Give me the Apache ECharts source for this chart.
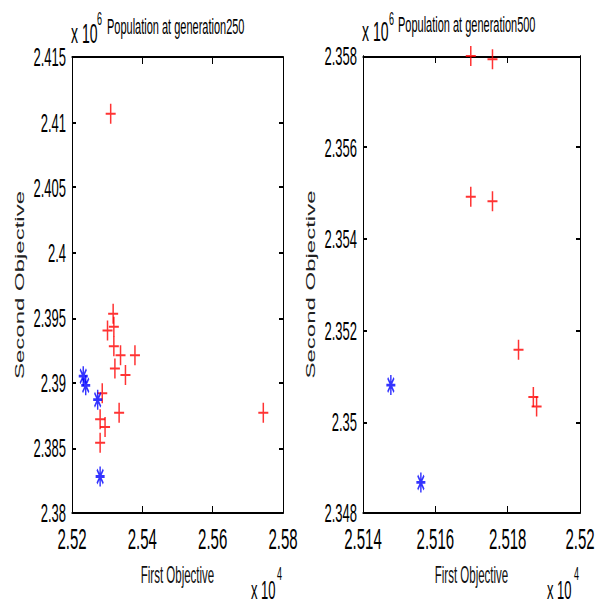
<!DOCTYPE html>
<html>
<head>
<meta charset="utf-8">
<script src="https://cdn.jsdelivr.net/npm/echarts@6/dist/echarts.min.js"></script>
<style>
  html, body { margin: 0; padding: 0; background: #fff; }
  #wrap { width: 600px; height: 604px; overflow: hidden; }
  /* the figure is drawn at half height and stretched 2x vertically, like the original capture */
  #main { width: 600px; height: 302px; transform: scaleY(2); transform-origin: 0 0; }
</style>
</head>
<body>
<div id="wrap"><div id="main"></div></div>
<script>
// generation 250 (x = first objective, y = second objective, raw units)
var gen250RedX = [25310, 25317, 25319, 25301, 25319, 25338, 25379, 25322, 25352, 25286, 25334, 25280, 25294, 25280, 25744];
var gen250RedY = [2410650, 2395300, 2394300, 2394000, 2392800, 2392100, 2392100, 2391100, 2390600, 2389200, 2387700, 2387200, 2386600, 2385400, 2387700];
var gen250BlueX = [25232, 25239, 25273, 25280];
var gen250BlueY = [2390500, 2389800, 2388700, 2382800];

// generation 500
var gen500RedX = [25169.8, 25175.8, 25169.8, 25175.8, 25183.0, 25187.1, 25188.0];
var gen500RedY = [2358000, 2357930, 2354920, 2354820, 2351570, 2350540, 2350330];
var gen500BlueX = [25147.7, 25156.0];
var gen500BlueY = [2350800, 2348670];

// axis ticks (raw units)
var gen250XTicks = [25200, 25400, 25600, 25800];
var gen250YTicks = [2380000, 2385000, 2390000, 2395000, 2400000, 2405000, 2410000, 2415000];
var gen500XTicks = [25140, 25160, 25180, 25200];
var gen500YTicks = [2348000, 2350000, 2352000, 2354000, 2356000, 2358000];

var titles = ['Population at generation250', 'Population at generation500'];

var FONT = 'Liberation Sans, Arial, sans-serif';
var PLUS = 'path://M0,4.5H10V5.5H0Z M4.25,0H5.75V10H4.25Z';
var STAR = 'path://M0,4.3H10V5.7H0Z M4.2,0H5.8V10H4.2Z M1,2L2,1L9,8L8,9Z M8,1L9,2L2,9L1,8Z';

function pairs(xs, ys) {
  var out = [];
  for (var i = 0; i < xs.length; i++) out.push([xs[i], ys[i]]);
  return out;
}

function xAxisFor(gi, ticks, pos) {
  var main = pos === 'bottom';
  return {
    gridIndex: gi, type: 'value', position: pos,
    min: ticks[0], max: ticks[ticks.length - 1], interval: ticks[1] - ticks[0],
    axisLine: { show: true, onZero: false, lineStyle: { color: '#000', width: 1 } },
    axisTick: { show: true, inside: true, length: 3.5, lineStyle: { color: '#000' } },
    axisLabel: {
      show: main, margin: 5.5, fontSize: 15, color: '#000', fontFamily: FONT,
      formatter: function (v) { return String(v / 1e4); }
    },
    splitLine: { show: false },
    name: main ? 'First Objective' : '',
    nameLocation: 'middle', nameGap: 24,
    nameTextStyle: { fontSize: 11.5, color: '#111', fontFamily: FONT }
  };
}

function yAxisFor(gi, ticks, pos) {
  var main = pos === 'left';
  return {
    gridIndex: gi, type: 'value', position: pos,
    min: ticks[0], max: ticks[ticks.length - 1], interval: ticks[1] - ticks[0],
    axisLine: { show: true, onZero: false, lineStyle: { color: '#000', width: 1 } },
    axisTick: { show: true, inside: true, length: 4, lineStyle: { color: '#000' } },
    axisLabel: {
      show: main, margin: 6, fontSize: 13, color: '#000', fontFamily: FONT,
      formatter: function (v) { return String(v / 1e6); }
    },
    splitLine: { show: false },
    name: main ? 'Second Objective' : '',
    nameLocation: 'middle', nameRotate: 90, nameGap: 46,
    nameTextStyle: { fontSize: 12, color: '#222', fontFamily: FONT }
  };
}

function txt(x, y, s, size) {
  return {
    type: 'text', x: x, y: y,
    style: {
      text: s, fill: '#000', font: size + 'px ' + FONT,
      textAlign: 'left', align: 'left',
      textVerticalAlign: 'middle', verticalAlign: 'middle'
    }
  };
}

var myChart = echarts.init(document.getElementById('main'), null, { renderer: 'svg' });

var option = {
  backgroundColor: '#fff',
  animation: false,
  grid: [
    { left: 72, top: 28.5, width: 211, height: 228, outerBoundsMode: 'none' },
    { left: 363, top: 28, width: 217, height: 228.5, outerBoundsMode: 'none' }
  ],
  xAxis: [
    xAxisFor(0, gen250XTicks, 'bottom'), xAxisFor(0, gen250XTicks, 'top'),
    xAxisFor(1, gen500XTicks, 'bottom'), xAxisFor(1, gen500XTicks, 'top')
  ],
  yAxis: [
    yAxisFor(0, gen250YTicks, 'left'), yAxisFor(0, gen250YTicks, 'right'),
    yAxisFor(1, gen500YTicks, 'left'), yAxisFor(1, gen500YTicks, 'right')
  ],
  series: [
    { type: 'scatter', xAxisIndex: 0, yAxisIndex: 0, symbol: PLUS, symbolSize: 10, clip: false,
      itemStyle: { color: '#ff0000' }, data: pairs(gen250RedX, gen250RedY) },
    { type: 'scatter', xAxisIndex: 0, yAxisIndex: 0, symbol: STAR, symbolSize: [9, 10], clip: false,
      itemStyle: { color: '#0000ff' }, data: pairs(gen250BlueX, gen250BlueY) },
    { type: 'scatter', xAxisIndex: 2, yAxisIndex: 2, symbol: PLUS, symbolSize: 10, clip: false,
      itemStyle: { color: '#ff0000' }, data: pairs(gen500RedX, gen500RedY) },
    { type: 'scatter', xAxisIndex: 2, yAxisIndex: 2, symbol: STAR, symbolSize: [9, 10], clip: false,
      itemStyle: { color: '#0000ff' }, data: pairs(gen500BlueX, gen500BlueY) }
  ],
  graphic: [
    // exponent labels and titles
    txt(71, 17, 'x 10', 14), txt(97, 9.5, '6', 9), txt(107, 13, titles[0], 11),
    txt(362, 16, 'x 10', 14), txt(389, 9.5, '6', 9), txt(398, 12, titles[1], 11),
    txt(251, 295, 'x 10', 13), txt(277, 287, '4', 9),
    txt(547, 295, 'x 10', 13), txt(574, 287, '4', 9)
  ]
};

myChart.setOption(option);
</script>
</body>
</html>
